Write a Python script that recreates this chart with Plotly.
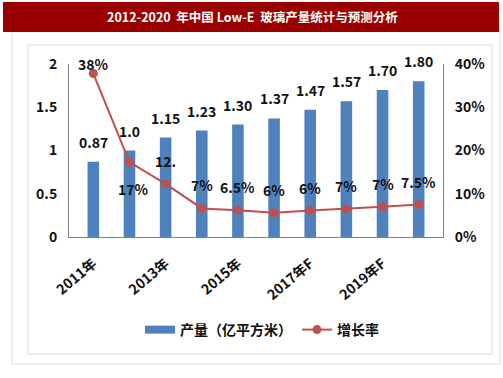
import plotly.graph_objects as go

categories = ["2011年", "2012年", "2013年", "2014年", "2015年", "2016年",
              "2017年F", "2018年F", "2019年F", "2020年F"]
output_vals = [0.87, 1.0, 1.15, 1.23, 1.30, 1.37, 1.47, 1.57, 1.70, 1.80]
output_labels = ["0.87", "1.0", "1.15", "1.23", "1.30", "1.37", "1.47", "1.57", "1.70", "1.80"]
growth_vals = [0.378, 0.173, 0.123, 0.066, 0.062, 0.056, 0.061, 0.065, 0.070, 0.075]
growth_labels = ["38%", "17%", "12.", "7%", "6.5%", "6%", "6%", "7%", "7%", "7.5%"]
tick_vals = ["2011年", "2013年", "2015年", "2017年F", "2019年F"]

title_text = "2012-2020  年中国 Low-E  玻璃产量统计与预测分析"
bar_name = "产量（亿平方米）"
line_name = "增长率"

FONT = "Noto Sans CJK SC, Noto Sans, sans-serif"
BLUE = "#4F81BD"
RED = "#C0504D"
TXT = "#111111"

W, H = 503, 378
L, R, T, B = 69, 443, 64, 237


def px(x):
    return (x - L) / (R - L)


def py(y):
    return (B - y) / (B - T)


def f(size=14, color=TXT, weight="bold"):
    return dict(family=FONT, size=size, color=color, weight=weight)


fig = go.Figure()
fig.add_trace(go.Bar(
    x=categories, y=output_vals, name=bar_name, showlegend=False,
    marker=dict(color=BLUE, line=dict(width=0)), width=0.32,
))
# legend-only entry to mimic the wide rectangle swatch
fig.add_trace(go.Scatter(
    x=[None], y=[None], name=bar_name, mode="lines",
    line=dict(color=BLUE, width=8),
))
fig.add_trace(go.Scatter(
    x=categories, y=growth_vals, name=line_name, yaxis="y2",
    mode="lines+markers",
    line=dict(color=RED, width=2),
    marker=dict(color=RED, size=9),
))

annotations = []
for c, v, t in zip(categories, output_vals, output_labels):
    annotations.append(dict(x=c, y=v, xref="x", yref="y", text=t, showarrow=False,
                            yshift=20, font=f()))
for i, (c, v, t) in enumerate(zip(categories, growth_vals, growth_labels)):
    if i == 0:
        ys, xs = 10, 0
    elif i == 1:
        ys, xs = -27, 4
    else:
        ys, xs = 23, 0
    annotations.append(dict(x=c, y=v, xref="x", yref="y2", text=t, showarrow=False,
                            yshift=ys, xshift=xs, font=f()))

annotations.append(dict(x=px(252), y=py(17), xref="paper", yref="paper",
                        xanchor="center", yanchor="middle",
                        text=title_text, showarrow=False,
                        font=f(12.5, "white")))

shapes = [
    dict(type="rect", xref="paper", yref="paper", x0=px(12), x1=px(500), y0=py(30), y1=py(364),
         line=dict(color="#DADADA", width=1), fillcolor="rgba(0,0,0,0)", layer="below"),
    dict(type="rect", xref="paper", yref="paper", x0=px(28), x1=px(492), y0=py(45), y1=py(354),
         line=dict(color="#DADADA", width=1), fillcolor="rgba(0,0,0,0)", layer="below"),
    dict(type="rect", xref="paper", yref="paper", x0=px(3), x1=px(499), y0=py(2), y1=py(32),
         line=dict(width=0), fillcolor="#9B0000", layer="below"),
]

fig.update_layout(
    width=W, height=H,
    margin=dict(l=L, r=W - R, t=T, b=H - B, autoexpand=False),
    paper_bgcolor="white", plot_bgcolor="rgba(0,0,0,0)",
    font=f(),
    showlegend=True,
    legend=dict(orientation="h", x=px(262), y=py(330), xanchor="center", yanchor="middle",
                font=f(), bgcolor="rgba(0,0,0,0)", itemwidth=30, tracegroupgap=0),
    xaxis=dict(type="category", categoryorder="array", categoryarray=categories,
               tickmode="array", tickvals=tick_vals, ticktext=tick_vals,
               tickangle=-40, showline=True, linecolor="#808080", linewidth=1,
               showgrid=False, ticks="", ticklabelstandoff=12, tickfont=f()),
    yaxis=dict(range=[0, 2], dtick=0.5, showline=True, linecolor="#808080", linewidth=1,
               showgrid=False, zeroline=False, ticks="", ticklabelstandoff=8,
               tickfont=f()),
    yaxis2=dict(range=[0, 0.4], dtick=0.1, tickformat=".0%", overlaying="y", side="right",
                showline=True, linecolor="#808080", linewidth=1, showgrid=False,
                zeroline=False, ticks="", ticklabelstandoff=8, tickfont=f()),
    annotations=annotations,
    shapes=shapes,
)

fig.write_html("out.html", config={"displayModeBar": False},
               post_script="document.body.style.margin='0';document.body.style.padding='0';")
